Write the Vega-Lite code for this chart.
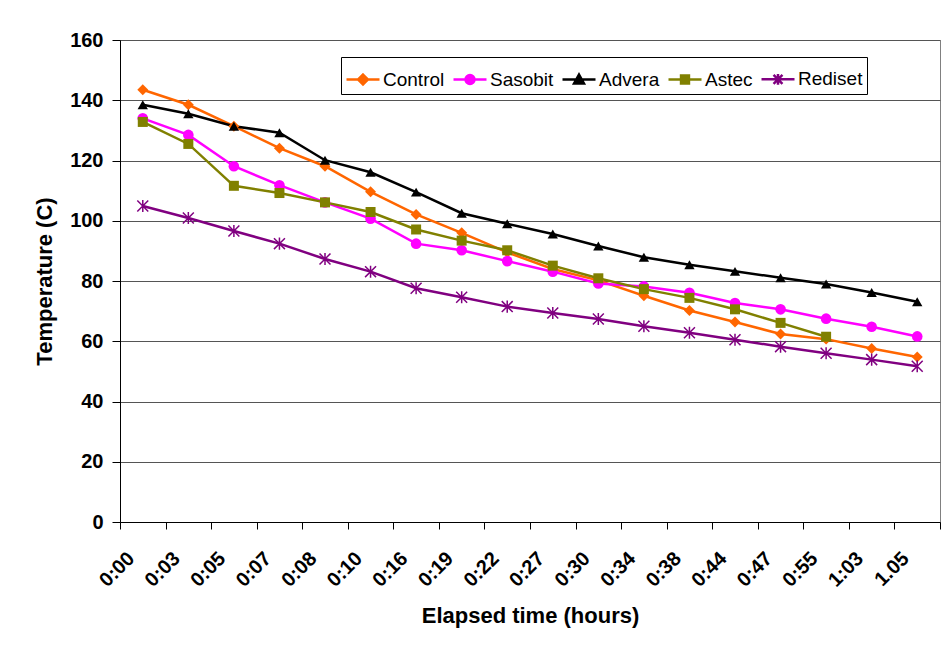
{
  "$schema": "https://vega.github.io/schema/vega-lite/v6.json",
  "width": 820,
  "height": 482,
  "autosize": {"type": "none"},
  "padding": {"left": 120, "top": 40, "right": 7, "bottom": 128},
  "background": "white",
  "config": {
    "font": "Liberation Sans",
    "view": {"stroke": "#808080", "strokeWidth": 1},
    "axis": {
      "labelFont": "Liberation Sans",
      "titleFont": "Liberation Sans",
      "labelFontWeight": "bold",
      "titleFontWeight": "bold",
      "labelColor": "#000",
      "titleColor": "#000",
      "domainColor": "#000",
      "tickColor": "#000",
      "domainWidth": 1,
      "tickWidth": 1
    }
  },
  "data": {
    "values": [
      {"series": "Control", "time": "0:00", "temp": 143.5},
      {"series": "Control", "time": "0:03", "temp": 138.5},
      {"series": "Control", "time": "0:05", "temp": 131.4},
      {"series": "Control", "time": "0:07", "temp": 124.1},
      {"series": "Control", "time": "0:08", "temp": 118.1},
      {"series": "Control", "time": "0:10", "temp": 109.6},
      {"series": "Control", "time": "0:16", "temp": 102.1},
      {"series": "Control", "time": "0:19", "temp": 96.0},
      {"series": "Control", "time": "0:22", "temp": 89.5},
      {"series": "Control", "time": "0:27", "temp": 84.0},
      {"series": "Control", "time": "0:30", "temp": 80.2},
      {"series": "Control", "time": "0:34", "temp": 75.1},
      {"series": "Control", "time": "0:38", "temp": 70.2},
      {"series": "Control", "time": "0:44", "temp": 66.4},
      {"series": "Control", "time": "0:47", "temp": 62.4},
      {"series": "Control", "time": "0:55", "temp": 60.7},
      {"series": "Control", "time": "1:03", "temp": 57.6},
      {"series": "Control", "time": "1.05", "temp": 54.8},
      {"series": "Sasobit", "time": "0:00", "temp": 134.0},
      {"series": "Sasobit", "time": "0:03", "temp": 128.5},
      {"series": "Sasobit", "time": "0:05", "temp": 118.1},
      {"series": "Sasobit", "time": "0:07", "temp": 111.8},
      {"series": "Sasobit", "time": "0:08", "temp": 106.1},
      {"series": "Sasobit", "time": "0:10", "temp": 100.7},
      {"series": "Sasobit", "time": "0:16", "temp": 92.4},
      {"series": "Sasobit", "time": "0:19", "temp": 90.2},
      {"series": "Sasobit", "time": "0:22", "temp": 86.6},
      {"series": "Sasobit", "time": "0:27", "temp": 83.1},
      {"series": "Sasobit", "time": "0:30", "temp": 79.2},
      {"series": "Sasobit", "time": "0:34", "temp": 78.2},
      {"series": "Sasobit", "time": "0:38", "temp": 76.1},
      {"series": "Sasobit", "time": "0:44", "temp": 72.7},
      {"series": "Sasobit", "time": "0:47", "temp": 70.6},
      {"series": "Sasobit", "time": "0:55", "temp": 67.5},
      {"series": "Sasobit", "time": "1:03", "temp": 64.8},
      {"series": "Sasobit", "time": "1.05", "temp": 61.6},
      {"series": "Advera", "time": "0:00", "temp": 138.5},
      {"series": "Advera", "time": "0:03", "temp": 135.5},
      {"series": "Advera", "time": "0:05", "temp": 131.4},
      {"series": "Advera", "time": "0:07", "temp": 129.2},
      {"series": "Advera", "time": "0:08", "temp": 120.1},
      {"series": "Advera", "time": "0:10", "temp": 116.1},
      {"series": "Advera", "time": "0:16", "temp": 109.5},
      {"series": "Advera", "time": "0:19", "temp": 102.5},
      {"series": "Advera", "time": "0:22", "temp": 99.0},
      {"series": "Advera", "time": "0:27", "temp": 95.6},
      {"series": "Advera", "time": "0:30", "temp": 91.6},
      {"series": "Advera", "time": "0:34", "temp": 87.9},
      {"series": "Advera", "time": "0:38", "temp": 85.4},
      {"series": "Advera", "time": "0:44", "temp": 83.2},
      {"series": "Advera", "time": "0:47", "temp": 81.1},
      {"series": "Advera", "time": "0:55", "temp": 79.0},
      {"series": "Advera", "time": "1:03", "temp": 76.2},
      {"series": "Advera", "time": "1.05", "temp": 73.1},
      {"series": "Astec", "time": "0:00", "temp": 132.8},
      {"series": "Astec", "time": "0:03", "temp": 125.5},
      {"series": "Astec", "time": "0:05", "temp": 111.6},
      {"series": "Astec", "time": "0:07", "temp": 109.2},
      {"series": "Astec", "time": "0:08", "temp": 106.1},
      {"series": "Astec", "time": "0:10", "temp": 102.9},
      {"series": "Astec", "time": "0:16", "temp": 97.1},
      {"series": "Astec", "time": "0:19", "temp": 93.4},
      {"series": "Astec", "time": "0:22", "temp": 90.2},
      {"series": "Astec", "time": "0:27", "temp": 85.1},
      {"series": "Astec", "time": "0:30", "temp": 80.9},
      {"series": "Astec", "time": "0:34", "temp": 77.3},
      {"series": "Astec", "time": "0:38", "temp": 74.4},
      {"series": "Astec", "time": "0:44", "temp": 70.6},
      {"series": "Astec", "time": "0:47", "temp": 66.1},
      {"series": "Astec", "time": "0:55", "temp": 61.5},
      {"series": "Rediset", "time": "0:00", "temp": 104.9},
      {"series": "Rediset", "time": "0:03", "temp": 100.9},
      {"series": "Rediset", "time": "0:05", "temp": 96.6},
      {"series": "Rediset", "time": "0:07", "temp": 92.4},
      {"series": "Rediset", "time": "0:08", "temp": 87.3},
      {"series": "Rediset", "time": "0:10", "temp": 83.1},
      {"series": "Rediset", "time": "0:16", "temp": 77.6},
      {"series": "Rediset", "time": "0:19", "temp": 74.6},
      {"series": "Rediset", "time": "0:22", "temp": 71.5},
      {"series": "Rediset", "time": "0:27", "temp": 69.4},
      {"series": "Rediset", "time": "0:30", "temp": 67.4},
      {"series": "Rediset", "time": "0:34", "temp": 65.0},
      {"series": "Rediset", "time": "0:38", "temp": 62.8},
      {"series": "Rediset", "time": "0:44", "temp": 60.5},
      {"series": "Rediset", "time": "0:47", "temp": 58.2},
      {"series": "Rediset", "time": "0:55", "temp": 56.0},
      {"series": "Rediset", "time": "1:03", "temp": 53.9},
      {"series": "Rediset", "time": "1.05", "temp": 51.7}
    ]
  },
  "encoding": {
    "x": {
      "field": "time",
      "type": "ordinal",
      "sort": ["0:00","0:03","0:05","0:07","0:08","0:10","0:16","0:19","0:22","0:27","0:30","0:34","0:38","0:44","0:47","0:55","1:03","1.05"],
      "scale": {"type": "band", "paddingInner": 0, "paddingOuter": 0},
      "axis": {
        "title": "Elapsed time (hours)",
        "titleFontSize": 22,
        "titlePadding": 15,
        "labelFontSize": 20,
        "labelAngle": -45,
        "labelPadding": 19,
        "labelOffset": -19,
        "labelOverlap": false,
        "tickSize": 7,
        "tickBand": "extent",
        "grid": false
      }
    },
    "y": {
      "field": "temp",
      "type": "quantitative",
      "scale": {"domain": [0, 160], "nice": false, "zero": true},
      "axis": {
        "title": "Temperature (C)",
        "titleFontSize": 22,
        "titlePadding": 13,
        "labelFontSize": 20,
        "labelPadding": 9,
        "tickSize": 8,
        "values": [0, 20, 40, 60, 80, 100, 120, 140, 160],
        "grid": true,
        "gridColor": "#555555",
        "gridWidth": 1
      }
    },
    "color": {
      "field": "series",
      "type": "nominal",
      "scale": {
        "domain": ["Control", "Sasobit", "Advera", "Astec", "Rediset"],
        "range": ["#FF6600", "#FF00FF", "#000000", "#808000", "#800080"]
      },
      "legend": {
        "orient": "none",
        "legendX": 221,
        "legendY": 17,
        "direction": "horizontal",
        "columns": 5,
        "title": null,
        "strokeColor": "#000000",
        "fillColor": "#ffffff",
        "padding": 4,
        "symbolSize": 1089,
        "symbolStrokeWidth": 2.5,
        "labelFont": "Liberation Sans",
        "labelFontSize": 19,
        "labelColor": "#000000",
        "labelOffset": 2,
        "columnPadding": 3,
        "encode": {
          "symbols": {
            "update": {
              "shape": {"signal": "datum.value === 'Control' ? 'M-1,0H1M0,-0.3L0.3,0L0,0.3L-0.3,0Z' : datum.value === 'Sasobit' ? 'M-1,0H1M-0.27,0A0.27,0.27,0,1,1,0.27,0A0.27,0.27,0,1,1,-0.27,0Z' : datum.value === 'Advera' ? 'M-1,0H1M0,-0.3L0.3,0.24L-0.3,0.24Z' : datum.value === 'Astec' ? 'M-1,0H1M-0.24,-0.24H0.24V0.24H-0.24Z' : 'M-1,0H1M-0.27,-0.27L0.27,0.27M-0.27,0.27L0.27,-0.27M0,-0.32V0.32'"},
              "fill": {"scale": "color", "field": "value"},
              "stroke": {"scale": "color", "field": "value"},
              "strokeWidth": {"value": 2.5},
              "opacity": {"value": 1}
            }
          }
        }
      }
    }
  },
  "layer": [
    {
      "mark": {"type": "line", "strokeWidth": 2.5},
      "encoding": {}
    },
    {
      "transform": [{"filter": "datum.series !== 'Rediset'"}],
      "mark": {"type": "point", "filled": true, "opacity": 1},
      "encoding": {
        "shape": {
          "field": "series",
          "type": "nominal",
          "scale": {"domain": ["Control", "Sasobit", "Advera", "Astec"], "range": ["diamond", "circle", "triangle-up", "square"]},
          "legend": null
        },
        "size": {
          "field": "series",
          "type": "nominal",
          "scale": {"domain": ["Control", "Sasobit", "Advera", "Astec"], "range": [120, 100, 130, 100]},
          "legend": null
        }
      }
    },
    {
      "transform": [{"filter": "datum.series === 'Rediset'"}],
      "mark": {"type": "point", "filled": false, "opacity": 1, "strokeWidth": 1.5, "size": 120, "shape": "M-1,-1L1,1M-1,1L1,-1M0,-1.1L0,1.1"},
      "encoding": {}
    }
  ]
}
